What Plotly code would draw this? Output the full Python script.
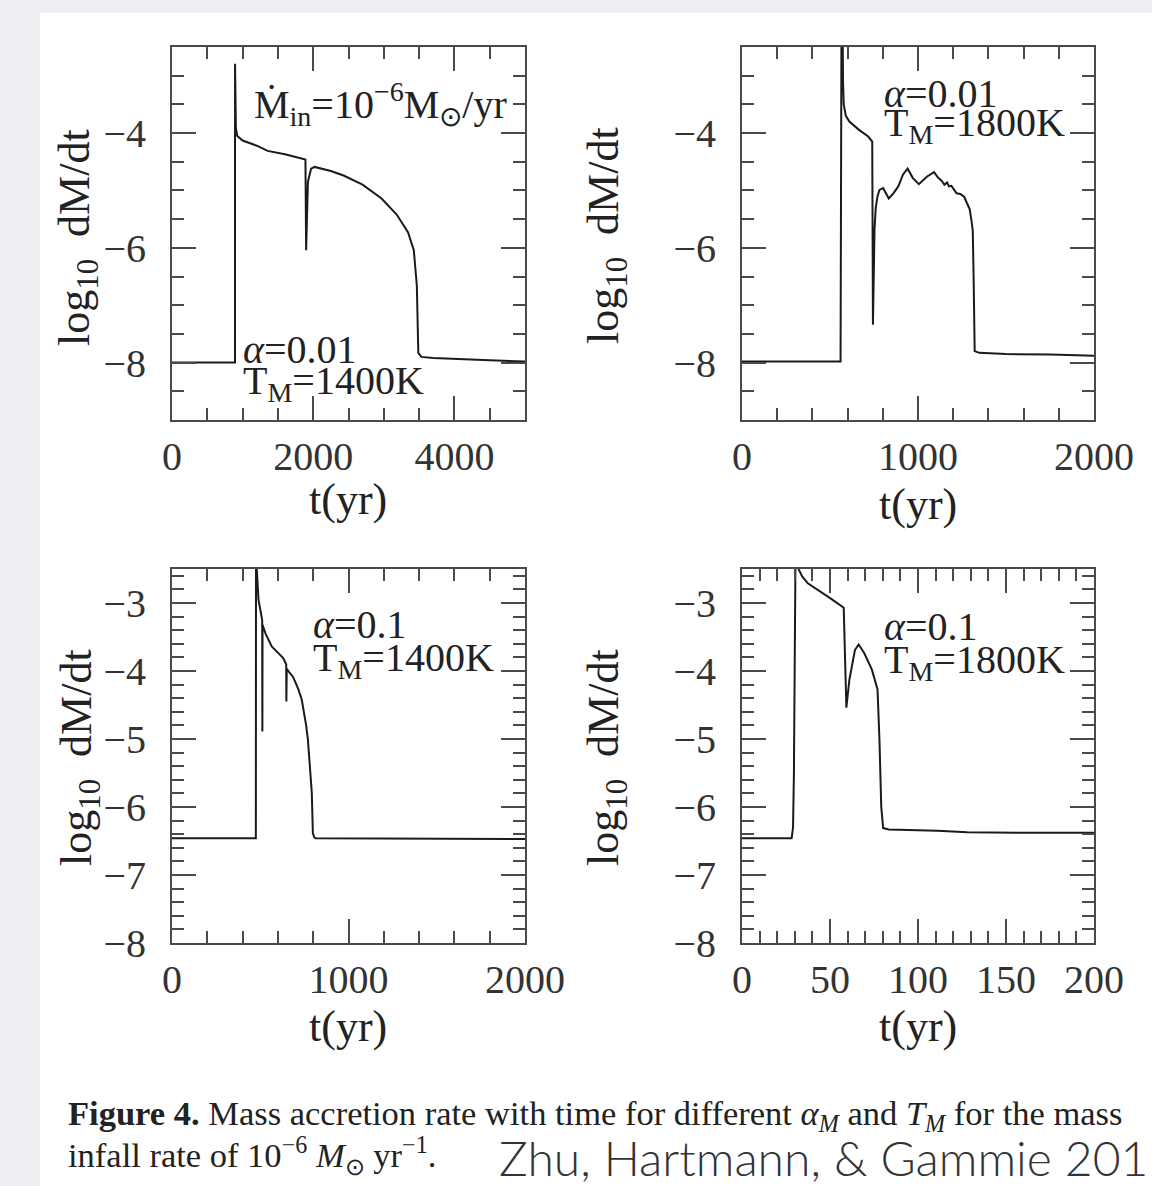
import plotly.graph_objects as go

# ---------------- data ----------------
t1 = [0, 500, 892, 893, 897, 905, 925, 1000, 1200, 1355, 1600, 1890, 1900, 1925, 1970, 2020,
      2250, 2430, 2699, 2968, 3183, 3344, 3425, 3468, 3489, 3532, 3700, 4043, 4500, 5000]
y1 = [-8.0, -8.0, -8.0, -2.79, -3.6, -3.92, -4.05, -4.13, -4.22, -4.31, -4.37, -4.46, -6.04, -4.85,
      -4.62, -4.59, -4.66, -4.74, -4.9, -5.14, -5.42, -5.73, -6.04, -6.66, -7.83, -7.9, -7.92,
      -7.94, -7.96, -7.98]

t2 = [0, 300, 560, 565, 572, 574, 578, 590, 610, 663, 717, 740, 744, 753, 760, 770, 781, 802,
      818, 834, 860, 888, 915, 941, 970, 1005, 1050, 1091, 1115, 1134, 1150, 1165, 1176, 1190,
      1219, 1240, 1262, 1285, 1294, 1305, 1311, 1316, 1322, 1348, 1500, 1754, 1925, 2000]
y2 = [-7.98, -7.98, -7.98, -2.3, -2.3, -3.1, -3.5, -3.7, -3.8, -3.94, -4.06, -4.15, -7.34, -5.67,
      -5.3, -5.1, -4.99, -4.96, -5.05, -5.14, -5.05, -4.93, -4.72, -4.62, -4.78, -4.89, -4.76,
      -4.68, -4.78, -4.83, -4.9, -4.86, -4.93, -4.92, -5.05, -5.06, -5.11, -5.25, -5.33, -5.55,
      -5.7, -6.5, -7.8, -7.83, -7.85, -7.86, -7.88, -7.88]

t3 = [0, 475, 476, 490, 511, 512, 513, 530, 565, 600, 630, 647, 648, 650, 665, 684, 700, 716,
      735, 749, 760, 770, 785, 792, 798, 805, 813, 900, 1400, 2000]
y3 = [-6.46, -6.46, -2.3, -2.95, -3.25, -4.89, -3.32, -3.45, -3.64, -3.73, -3.81, -3.9, -4.45,
      -3.97, -4.02, -4.08, -4.17, -4.27, -4.42, -4.62, -4.8, -5.01, -5.5, -5.79, -6.38, -6.44,
      -6.46, -6.46, -6.47, -6.47]

t4 = [0, 28.2, 29.0, 29.5, 30.4, 31.0, 32.1, 34.2, 37.4, 42.8, 51.3, 57.8, 58.3, 59.3, 61.0,
      64.2, 66.3, 69.5, 73.8, 77.0, 78.1, 79.1, 80.2, 83.4, 111, 128, 160, 200]
y4 = [-6.46, -6.46, -6.3, -5.5, -2.3, -2.3, -2.5, -2.61, -2.71, -2.8, -2.95, -3.07, -3.54, -4.54,
      -4.13, -3.69, -3.61, -3.74, -3.98, -4.27, -5.01, -5.99, -6.31, -6.33, -6.35, -6.37, -6.38,
      -6.38]

x_ranges = [[0, 5000], [0, 2000], [0, 2000], [0, 200]]
x_major = [2000, 1000, 1000, 50]
x_minor = [500, 200, 200, 10]
y_ranges = [[-9, -2.5], [-9, -2.5], [-8, -2.5], [-8, -2.5]]
y_major = [2, 2, 1, 1]
y_minor = [0.5, 0.5, 0.2, 0.2]

label_p1_top = "Ṁ<sub>in</sub>=10<sup>−6</sup>M<sub>⊙</sub>/yr"
label_p1_low = ["<i>α</i>=0.01", "T<sub>M</sub>=1400K"]
label_p2 = ["<i>α</i>=0.01", "T<sub>M</sub>=1800K"]
label_p3 = ["<i>α</i>=0.1", "T<sub>M</sub>=1400K"]
label_p4 = ["<i>α</i>=0.1", "T<sub>M</sub>=1800K"]

ytitle = "log<sub>10</sub>  dM/dt"
xtitle = "t(yr)"
caption1 = ("<b>Figure 4.</b> Mass accretion rate with time for different "
            "<i>α<sub>M</sub></i> and <i>T<sub>M</sub></i> for the mass")
caption2 = "infall rate of 10<sup>−6</sup> <i>M</i><sub>⊙</sub> yr<sup>−1</sup>."
credit = "Zhu, Hartmann, &amp; Gammie 201"

# ---------------- layout helpers ----------------
W, H = 1152, 1186
def fx(px):
    return px / W
def fy(py):
    return 1 - py / H

SERIF = "Liberation Serif, Times New Roman, serif"
INK = "#1a1a1a"
FRAME = "#4a4a4a"

# pixel boxes of the four frames: (left, right, top, bottom)
boxes = [(172, 525, 47, 420), (742, 1094, 47, 420),
         (172, 525, 569, 943), (742, 1094, 569, 943)]

fig = go.Figure()
series = [(t1, y1), (t2, y2), (t3, y3), (t4, y4)]
for i, (tx, ty) in enumerate(series):
    n = "" if i == 0 else str(i + 1)
    fig.add_trace(go.Scatter(x=tx, y=ty, mode="lines",
                             line=dict(color=INK, width=2),
                             xaxis="x" + n, yaxis="y" + n, showlegend=False,
                             hoverinfo="skip"))

for i, (l, r, t, b) in enumerate(boxes):
    n = "" if i == 0 else str(i + 1)
    common = dict(showgrid=False, zeroline=False, showline=True, linecolor=FRAME,
                  linewidth=2, mirror="ticks", ticks="inside", tickwidth=2,
                  tickcolor=FRAME, ticklen=24, automargin=False,
                  tickfont=dict(family=SERIF, size=40, color="#333333"))
    fig.layout["xaxis" + n] = dict(
        common, domain=[fx(l), fx(r)], range=x_ranges[i], tick0=0, dtick=x_major[i],
        anchor="y" + n, ticklabelstandoff=0,
        minor=dict(ticks="inside", dtick=x_minor[i], tick0=0, ticklen=12,
                   tickwidth=2, tickcolor=FRAME, showgrid=False))
    fig.layout["yaxis" + n] = dict(
        common, domain=[fy(b), fy(t)], range=y_ranges[i], tick0=0, dtick=y_major[i],
        anchor="x" + n, ticklabelstandoff=16,
        minor=dict(ticks="inside", dtick=y_minor[i], tick0=0, ticklen=12,
                   tickwidth=2, tickcolor=FRAME, showgrid=False))

ann = []
def text(x, y, s, size=40, xanchor="left", yanchor="middle", angle=0, family=SERIF,
         color="#222222", weight=None):
    f = dict(family=family, size=size, color=color)
    if weight is not None:
        f["weight"] = weight
    ann.append(dict(x=fx(x), y=fy(y), xref="paper", yref="paper", text=s,
                    showarrow=False, xanchor=xanchor, yanchor=yanchor,
                    textangle=angle, font=f))

# axis titles
for (xc, yc) in [(77, 238), (606, 236), (79, 758), (606, 758)]:
    text(xc, yc, ytitle, size=44, xanchor="center", yanchor="middle", angle=-90)
for (xc, yc) in [(348, 500), (918, 505), (348, 1026), (918, 1026)]:
    text(xc, yc, xtitle, size=44, xanchor="center", yanchor="middle")

# in-panel labels
text(252, 104, label_p1_top, size=40)
text(882, 94, label_p2[0], size=40)
text(882, 125, label_p2[1], size=40)
text(241, 350, label_p1_low[0], size=40)
text(241, 383, label_p1_low[1], size=40)
text(311, 624, label_p3[0], size=40)
text(311, 660, label_p3[1], size=40)
text(882, 626, label_p4[0], size=40)
text(882, 662, label_p4[1], size=40)

# caption
text(66, 1115, caption1, size=34.5)
text(66, 1155, caption2, size=34.5)
text(1150, 1188, credit, size=48, xanchor="right", yanchor="bottom",
     family="Lato, Open Sans, sans-serif", color="#333333", weight=300)

fig.update_layout(
    width=W, height=H, margin=dict(l=0, r=0, t=0, b=0, autoexpand=False),
    paper_bgcolor="#eceef1", plot_bgcolor="white",
    annotations=ann,
    shapes=[dict(type="rect", xref="paper", yref="paper", x0=fx(40), x1=1.0,
                 y0=0, y1=fy(13), fillcolor="white", line=dict(width=0), layer="below")],
)

fig.write_html("out.html", config={"displayModeBar": False},
               post_script="document.body.style.margin='0';document.body.style.overflow='hidden';")
